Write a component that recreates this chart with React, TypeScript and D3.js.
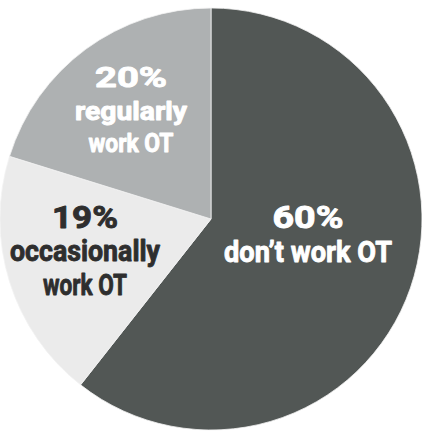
import React from "react";
import * as d3 from "d3";

const categories = ["don't work OT", "occasionally work OT", "regularly work OT"];
const values = [60, 19, 20];
const percentLabels = ["60%", "19%", "20%"];
const labelLines = [["don\u2019t work OT"], ["occasionally", "work OT"], ["regularly", "work OT"]];

const W = 422;
const H = 431;
const cx = 211;
const cy = 219;
const R = 211;

const colors = ["#525755", "#ebebeb", "#aeb1b2"];
const textColors = ["#ffffff", "#2e2e2e", "#ffffff"];
// label layout: center x, baselines, font sizes and fitted widths for each line
const labelLayout = [
  { x: 308, baselines: [228, 262], sizes: [31, 30], widths: [71, 168] },
  { x: 85, baselines: [228, 261, 295], sizes: [31, 30, 30], widths: [66, 150, 84] },
  { x: 131, baselines: [87, 120, 152], sizes: [28, 25, 25], widths: [72, 112, 85] },
];

export default function App() {
  const pie = d3.pie<number>().sort(null).value((d) => d);
  const arcs = pie(values);
  const arc = d3.arc<d3.PieArcDatum<number>>().innerRadius(0).outerRadius(R);
  return (
    <div style={{ position: "absolute", left: 0, top: 0, width: W, height: H, background: "#fff" }}>
      <svg width={W} height={H} style={{ display: "block" }}>
        <g transform={`translate(${cx},${cy})`}>
          {arcs.map((a, i) => (
            <path key={categories[i]} d={arc(a) || ""} fill={colors[i]} stroke="#f2f2f2" strokeWidth={0.8} />
          ))}
        </g>
        {arcs.map((a, i) => {
          const L = labelLayout[i];
          const lines = [percentLabels[i], ...labelLines[i]];
          return (
            <g
              key={"t" + i}
              fill={textColors[i]}
              stroke={textColors[i]}
              strokeWidth={0.9}
              strokeLinejoin="round"
              fontFamily="Roboto, sans-serif"
              fontWeight={700}
            >
              {lines.map((l, j) => (
                <text
                  key={j}
                  x={L.x}
                  y={L.baselines[j]}
                  fontSize={L.sizes[j]}
                  textAnchor="middle"
                  textLength={L.widths[j]}
                  lengthAdjust="spacingAndGlyphs"
                >
                  {l}
                </text>
              ))}
            </g>
          );
        })}
      </svg>
    </div>
  );
}
